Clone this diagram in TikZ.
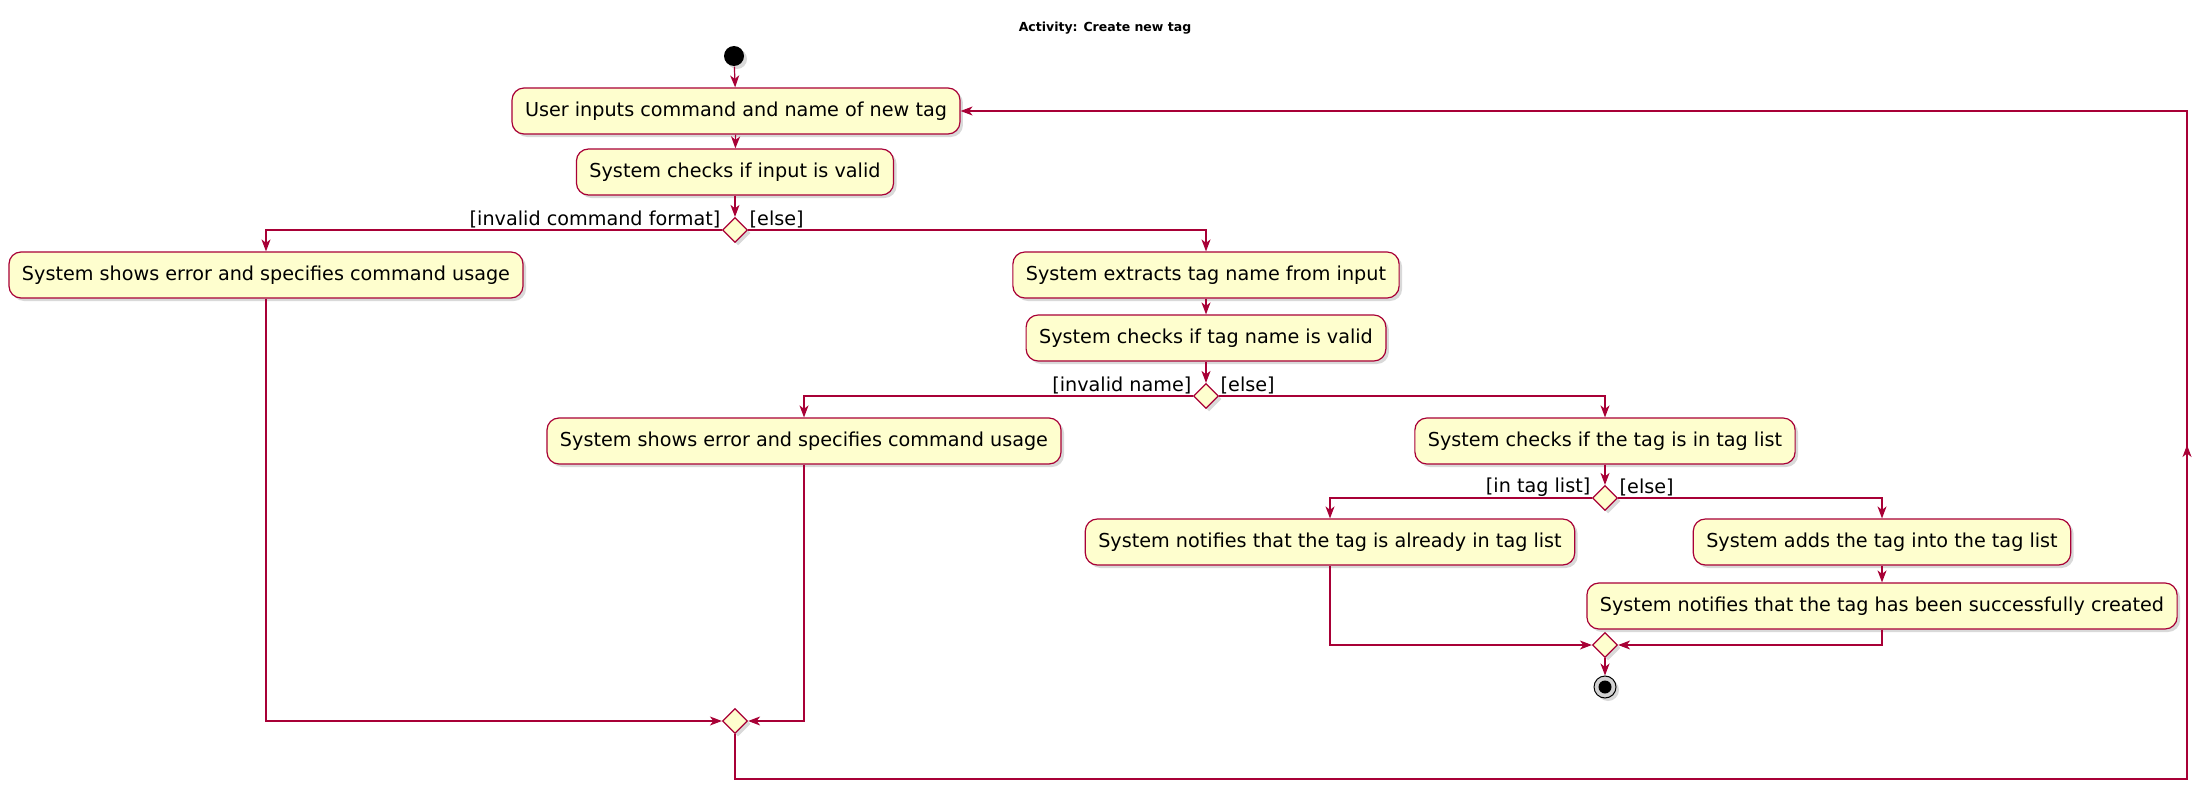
\documentclass[tikz,border=0pt]{standalone}
\usepackage{fontspec}
\setmainfont{DejaVu Sans}
\usetikzlibrary{arrows.meta,shapes.geometric,shadows,decorations.markings}
\definecolor{FlowLine}{HTML}{A80036}
\definecolor{FlowFill}{HTML}{FEFECE}

\begin{document}
\begin{tikzpicture}[x=1pt,y=-1pt,line width=1.2pt,draw=FlowLine,
 >={Stealth[length=12pt,width=9pt,inset=3.5pt]},
 shade3/.style={drop shadow={shadow xshift=3pt,shadow yshift=-3pt,opacity=0.3}},
 act/.style={rectangle,rounded corners=12pt,draw=FlowLine,fill=FlowFill,minimum height=46pt,inner xsep=13pt,font=\fontsize{19.2}{22}\selectfont,shade3},
 choice/.style={diamond,aspect=1,minimum size=25pt,inner sep=0pt,draw=FlowLine,fill=FlowFill,shade3},
 guard/.style={inner sep=1pt,font=\fontsize{19.2}{22}\selectfont},
 midarrow/.style={postaction={decorate},decoration={markings,mark=at position 0.5 with {\arrow{>}}}}]
 \useasboundingbox (0,0) rectangle (2212,792);
 \node[font=\bfseries\fontsize{12.5}{15}\selectfont] (title) at (1105,28) {Activity: Create new tag};
 \node[circle,fill=black,minimum size=20pt,inner sep=0pt,shade3] (start) at (734,56) {};
 \node[act] (input) at (736,111) {User inputs command and name of new tag};
 \node[act] (check) at (735,172) {System checks if input is valid};
 \node[choice] (fmt) at (735,230) {};
 \node[guard,anchor=south east] (fmtbad) at (fmt.west) {[invalid command format]};
 \node[guard,anchor=south west] (fmtok) at (fmt.east) {[else]};
 \node[act] (usage1) at (266,275) {System shows error and specifies command usage};
 \node[act] (extract) at (1206,275) {System extracts tag name from input};
 \node[act] (name) at (1206,338) {System checks if tag name is valid};
 \node[choice] (valid) at (1206,396) {};
 \node[guard,anchor=south east] (namebad) at (valid.west) {[invalid name]};
 \node[guard,anchor=south west] (nameok) at (valid.east) {[else]};
 \node[act] (usage2) at (804,441) {System shows error and specifies command usage};
 \node[act] (lookup) at (1605,441) {System checks if the tag is in tag list};
 \node[choice] (exists) at (1605,498) {};
 \node[guard,anchor=south east] (inlist) at (exists.west) {[in tag list]};
 \node[guard,anchor=south west] (notin) at (exists.east) {[else]};
 \node[act] (dup) at (1330,542) {System notifies that the tag is already in tag list};
 \node[act] (add) at (1882,542) {System adds the tag into the tag list};
 \node[act] (done) at (1882,606) {System notifies that the tag has been successfully created};
 \node[choice] (join) at (1605,645) {};
 \node[circle,draw=black,line width=1pt,fill=gray!35,minimum size=22pt,inner sep=0pt,shade3,
  path picture={\fill[black] (path picture bounding box.center) circle (6.5pt);}] (stop) at (1605,687) {};
 \node[choice] (merge) at (735,721) {};
 \coordinate (back) at (2187,779);
 % main flow
 \draw[->] (start) -- (input);
 \draw[->] (input) -- (check);
 \draw[->] (check) -- (fmt);
 \draw[->] (fmt.west) -| (usage1.north);
 \draw[->] (fmt.east) -| (extract.north);
 \draw[->] (extract) -- (name);
 \draw[->] (name) -- (valid);
 \draw[->] (valid.west) -| (usage2.north);
 \draw[->] (valid.east) -| (lookup.north);
 \draw[->] (lookup) -- (exists);
 \draw[->] (exists.west) -| (dup.north);
 \draw[->] (exists.east) -| (add.north);
 \draw[->] (add) -- (done);
 \draw[->] (dup.south) |- (join.west);
 \draw[->] (done.south) |- (join.east);
 \draw[->] (join) -- (stop);
 \draw[->] (usage1.south) |- (merge.west);
 \draw[->] (usage2.south) |- (merge.east);
 % loop back
 \draw[->] (merge.south) |- (back) |- (input.east);
 \draw[midarrow] (back) -- (back |- input.east);
\end{tikzpicture}
\end{document}
